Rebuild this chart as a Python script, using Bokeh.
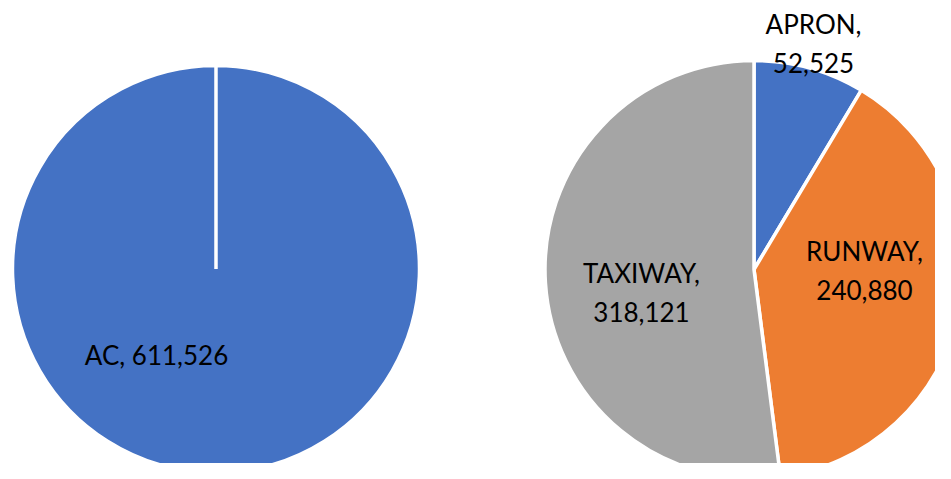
import numpy as np
from bokeh.plotting import figure
from bokeh.models import Range1d, ColumnDataSource
from bokeh.core.properties import value
from bokeh.embed import file_html
from bokeh.resources import INLINE

# ---- data ----
left_categories = ["AC"]
left_values = [611526]
right_categories = ["APRON", "RUNWAY", "TAXIWAY"]
right_values = [52525, 240880, 318121]

# ---- styles / layout (picture pixel coordinates) ----
left_colors = ["#4472C4"]
right_colors = ["#4472C4", "#ED7D31", "#A5A5A5"]
left_center, left_radius = (215.5, 268.5), 203.5
right_center, right_radius = (753.5, 269.0), 209.0
left_label_pos = [(156, 354)]
right_label_pos = [(813, 43), (864, 270), (641, 292)]

W, H = 935, 463
PAGE_H = 479


def ty(py):
    return PAGE_H - py


p = figure(width=W, height=H, x_range=Range1d(0, W), y_range=Range1d(PAGE_H - H, PAGE_H),
           output_backend="svg", toolbar_location=None, min_border=0,
           x_axis_location=None, y_axis_location=None)
p.grid.visible = False
p.outline_line_color = None
p.background_fill_color = "white"
p.border_fill_color = "white"


def add_pie(center, radius, cats, vals, colors, label_pos, wrap):
    v = np.asarray(vals, dtype=float)
    frac = v / v.sum()
    cum = np.concatenate([[0.0], np.cumsum(frac)])
    start = np.pi / 2 - 2 * np.pi * cum[:-1]
    end = np.pi / 2 - 2 * np.pi * cum[1:]
    end = np.where(np.isclose(start - end, 2 * np.pi), end + 1e-4, end)
    src = ColumnDataSource(dict(x=[center[0]] * len(v), y=[ty(center[1])] * len(v),
                                start=start, end=end, color=colors))
    p.wedge(x="x", y="y", radius=radius, start_angle="start", end_angle="end",
            direction="clock", fill_color="color", line_color="white", line_width=3.5,
            source=src)
    sep = ",\n" if wrap else ", "
    labels = [f"{c}{sep}{int(val):,}" for c, val in zip(cats, vals)]
    lsrc = ColumnDataSource(dict(x=[lp[0] for lp in label_pos], y=[ty(lp[1]) for lp in label_pos],
                                 text=labels))
    p.text(x="x", y="y", text="text", source=lsrc, text_align="center", text_baseline="middle",
           text_font=value("Lato"), text_font_size="26px", text_color="#000000",
           text_line_height=1.22)


add_pie(left_center, left_radius, left_categories, left_values, left_colors, left_label_pos, False)
add_pie(right_center, right_radius, right_categories, right_values, right_colors, right_label_pos, True)

open("out.html", "w").write(file_html(p, INLINE))
